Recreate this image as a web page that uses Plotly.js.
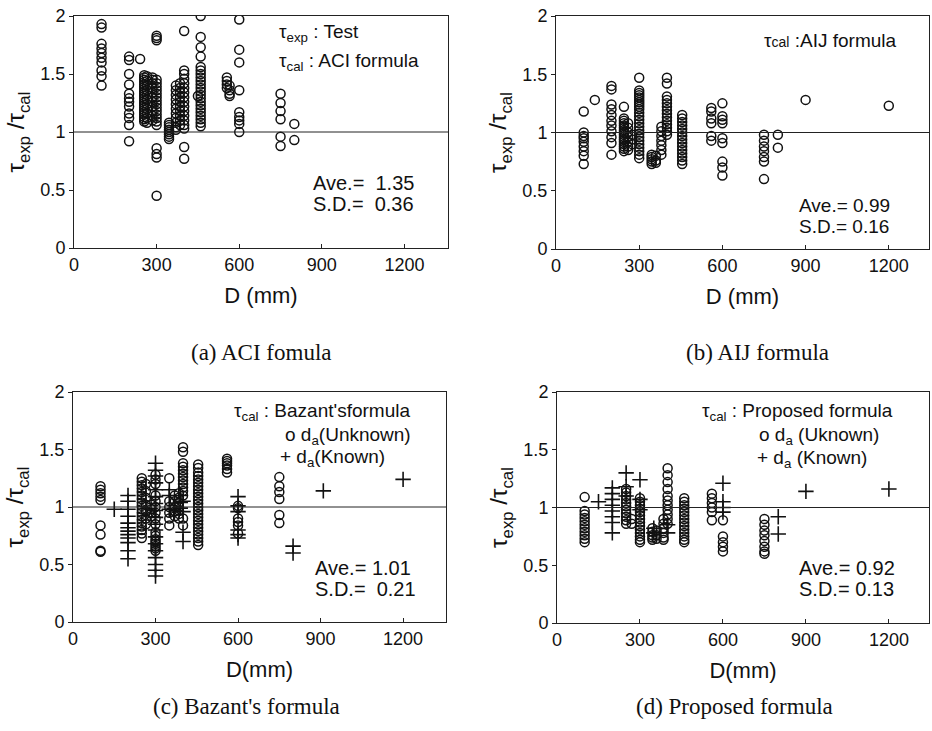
<!DOCTYPE html>
<html>
<head>
<meta charset="utf-8">
<script src="https://cdn.plot.ly/plotly-3.0.1.min.js"></script>
<style>html,body{margin:0;padding:0;background:#fff;}#chart{width:932px;height:731px;}</style>
</head>
<body>
<div id="chart"></div>
<script>
// ---------- DATA (columns: D in mm, ratios tau_exp/tau_cal) ----------
// (a) ACI formula
const aciD = [100, 200, 240, 255, 265, 285, 300, 345, 370, 385, 400, 450, 460, 555, 565, 600, 750, 800];
const aciR = [
  [1.93,1.90,1.76,1.72,1.68,1.64,1.60,1.53,1.48,1.40],
  [1.65,1.62,1.50,1.41,1.33,1.29,1.26,1.22,1.16,1.12,1.06,0.92],
  [1.63],
  [1.49,1.47,1.45,1.43,1.41,1.39,1.37,1.35,1.33,1.31,1.29,1.27,1.25,1.23,1.21,1.19,1.17,1.15,1.13,1.11,1.09],
  [1.48,1.44,1.40,1.36,1.32,1.28,1.24,1.20,1.16,1.12,1.08],
  [1.47,1.45,1.42,1.38,1.34,1.30,1.26,1.22,1.18,1.14,1.10],
  [1.83,1.81,1.79,1.45,1.42,1.39,1.36,1.33,1.30,1.27,1.24,1.21,1.18,1.15,1.12,1.09,1.06,0.86,0.81,0.78,0.45],
  [1.08,1.06,1.04,1.02,1.00,0.98,0.96,0.94],
  [1.40,1.36,1.32,1.28,1.24,1.20,1.16,1.12,1.08,1.04,1.02],
  [1.42,1.38,1.34,1.30,1.26,1.22,1.18,1.14,1.10,1.06],
  [1.87,1.53,1.50,1.46,1.42,1.38,1.34,1.30,1.26,1.22,1.18,1.14,1.10,1.06,1.03,0.87,0.77],
  [1.31],
  [2.00,1.82,1.73,1.65,1.56,1.53,1.50,1.47,1.44,1.41,1.38,1.35,1.32,1.29,1.26,1.23,1.20,1.17,1.14,1.11,1.08,1.05],
  [1.47,1.44,1.41,1.38],
  [1.40,1.36,1.33,1.31],
  [1.97,1.71,1.60,1.36,1.17,1.13,1.10,1.07,1.00],
  [1.33,1.25,1.18,1.11,0.96,0.88],
  [1.07,0.93]
];
// (b) AIJ formula
const aijD = [100, 140, 200, 245, 260, 275, 300, 345, 360, 380, 400, 455, 560, 600, 750, 800, 900, 1200];
const aijR = [
  [1.18,1.00,0.97,0.95,0.92,0.88,0.84,0.80,0.73],
  [1.28],
  [1.40,1.37,1.24,1.20,1.15,1.10,1.06,1.01,0.96,0.91,0.81],
  [1.22,1.12,1.10,1.08,1.06,1.04,1.02,1.00,0.98,0.96,0.94,0.92,0.90,0.88,0.86,0.84],
  [1.08,1.04,1.00,0.96,0.92,0.88,0.85],
  [0.98,0.94,0.90],
  [1.47,1.36,1.34,1.32,1.30,1.28,1.26,1.24,1.22,1.20,1.17,1.14,1.11,1.08,1.05,1.02,0.99,0.96,0.93,0.90,0.87,0.84,0.81,0.78],
  [0.81,0.79,0.77,0.75,0.73],
  [0.80,0.76,0.74],
  [1.05,1.01,0.97,0.93,0.89,0.85,0.81],
  [1.47,1.42,1.31,1.28,1.25,1.22,1.19,1.16,1.13,1.10,1.07,1.04,1.01,0.98],
  [1.15,1.12,1.09,1.06,1.03,1.00,0.97,0.94,0.91,0.88,0.85,0.82,0.79,0.76,0.73],
  [1.21,1.18,1.12,1.08,0.97,0.93],
  [1.25,1.14,1.11,1.08,0.95,0.91,0.75,0.70,0.63],
  [0.98,0.93,0.88,0.84,0.79,0.75,0.60],
  [0.98,0.87],
  [1.28],
  [1.23]
];
// (c) Bazant's formula, d_a unknown (circles)
const bzUnkD = [100, 250, 265, 285, 300, 350, 370, 385, 400, 455, 560, 600, 750];
const bzUnkR = [
  [1.18,1.15,1.12,1.09,1.06,0.84,0.76,0.62,0.61],
  [1.25,1.22,1.19,1.16,1.13,1.10,1.07,1.04,1.01,0.98,0.95,0.92,0.89,0.86,0.83,0.80,0.77,0.73],
  [1.20,1.14,1.08,1.02,0.96,0.90,0.85],
  [1.02,0.98,0.95,0.92],
  [1.28,1.24,1.20,1.10,1.05,1.00,0.95,0.90,0.85,0.78,0.75,0.72,0.70,0.68,0.66,0.64,0.62],
  [1.25,1.05,1.00,0.95,0.90,0.84],
  [1.10,1.05,1.00,0.96,0.92],
  [1.12,1.08,1.04,1.00,0.97,0.94,0.90],
  [1.52,1.48,1.38,1.35,1.32,1.29,1.26,1.23,1.20,1.17,1.14,1.10,0.90,0.84],
  [1.37,1.34,1.30,1.27,1.24,1.21,1.18,1.15,1.12,1.09,1.06,1.03,1.00,0.97,0.94,0.91,0.88,0.85,0.82,0.79,0.76,0.73,0.70,0.67],
  [1.42,1.40,1.38,1.36,1.33,1.30],
  [1.01,0.99,0.90,0.87,0.84,0.77],
  [1.26,1.18,1.13,1.07,0.93,0.86]
];
// (c) Bazant's formula, d_a known (plus)
const bzKnD = [150, 200, 300, 350, 390, 400, 600, 800, 910, 1200];
const bzKnR = [
  [0.98],
  [1.10,1.05,0.98,0.92,0.86,0.82,0.79,0.76,0.73,0.69,0.62,0.55],
  [1.38,1.32,1.27,1.21,1.15,1.09,1.03,0.97,0.91,0.85,0.80,0.74,0.68,0.62,0.56,0.50,0.45,0.40],
  [1.15,1.10,0.98],
  [1.10,1.04,0.99],
  [1.05,0.96,0.78,0.70],
  [1.09,1.01,0.96,0.80,0.76,0.73],
  [0.66,0.60],
  [1.14],
  [1.24]
];
// (d) Proposed formula, d_a unknown (circles)
const prUnkD = [100, 250, 270, 300, 345, 360, 385, 400, 460, 560, 600, 750];
const prUnkR = [
  [1.09,0.97,0.94,0.91,0.88,0.85,0.82,0.79,0.76,0.73,0.70],
  [1.16,1.13,1.10,1.07,1.04,1.01,0.98,0.95,0.92,0.89,0.86],
  [0.90,0.86],
  [1.08,1.05,1.02,0.99,0.96,0.93,0.90,0.87,0.84,0.81,0.78,0.75,0.72,0.70],
  [0.82,0.79,0.76,0.74,0.72],
  [0.80,0.76,0.73],
  [0.90,0.86,0.82,0.78,0.74,0.72],
  [1.34,1.28,1.22,1.16,1.10,1.06,1.02,0.98,0.94,0.90,0.86],
  [1.08,1.05,1.02,0.99,0.96,0.93,0.90,0.87,0.84,0.81,0.78,0.75,0.72,0.70],
  [1.12,1.08,1.04,1.00,0.96,0.89],
  [0.89,0.75,0.70,0.66,0.62],
  [0.90,0.85,0.80,0.76,0.71,0.66,0.62,0.60]
];
// (d) Proposed formula, d_a known (plus)
const prKnD = [150, 200, 250, 300, 350, 400, 600, 800, 900, 1200];
const prKnR = [
  [1.05],
  [1.17,1.12,1.07,1.02,0.97,0.92,0.87,0.78],
  [1.30,1.18,1.10],
  [1.24,1.07,0.98],
  [0.82,0.78],
  [0.85,0.78],
  [1.21,1.05,1.00,0.96],
  [0.92,0.77],
  [1.14],
  [1.16]
];
const xTicks = [0, 300, 600, 900, 1200];
const yTicks = [0, 0.5, 1, 1.5, 2];

// ---------- BUILD ----------
function expand(ds, rs) {
  const x = [], y = [];
  ds.forEach((d, i) => rs[i].forEach(v => { x.push(d); y.push(v); }));
  return {x, y};
}
const W = 932, H = 731;
const SANS = 'Liberation Sans, Arial, sans-serif';
const SERIF = 'Liberation Serif, Times New Roman, serif';
const circ = {symbol: 'circle-open', size: 9, color: '#111', line: {width: 1.5, color: '#111'}};
const plus = {symbol: 'cross-thin-open', size: 11, color: '#111', line: {width: 1.6, color: '#111'}};

function sc(ds, rs, xa, ya, marker) {
  const e = expand(ds, rs);
  return {type: 'scatter', mode: 'markers', x: e.x, y: e.y, xaxis: xa, yaxis: ya, marker: marker, hoverinfo: 'x+y', showlegend: false};
}
const traces = [
  sc(aciD, aciR, 'x', 'y', circ),
  sc(aijD, aijR, 'x2', 'y2', circ),
  sc(bzUnkD, bzUnkR, 'x3', 'y3', circ),
  sc(bzKnD, bzKnR, 'x3', 'y3', plus),
  sc(prUnkD, prUnkR, 'x4', 'y4', circ),
  sc(prKnD, prKnR, 'x4', 'y4', plus)
];

// pixel boxes of the four plot areas [left, right, top, bottom]
const boxes = [[74, 448, 16, 248], [556, 929, 16, 249], [73, 446, 392, 622], [557, 929, 392, 623]];
const xr = [1358, 1345, 1356, 1345];

const layout = {
  width: W, height: H,
  margin: {l: 0, r: 0, t: 0, b: 0},
  paper_bgcolor: '#fff', plot_bgcolor: '#fff',
  font: {family: SANS, color: '#111', size: 17},
  showlegend: false,
  shapes: [], annotations: []
};
const ytitle = 'τ<sub>exp</sub> /τ<sub>cal</sub>';
boxes.forEach((b, i) => {
  const n = i === 0 ? '' : String(i + 1);
  layout['xaxis' + n] = {
    domain: [b[0] / W, b[1] / W], anchor: 'y' + n, range: [0, xr[i]],
    tickvals: xTicks, ticks: 'inside', ticklen: 4, tickcolor: '#222',
    showgrid: false, zeroline: false, showline: true, mirror: true, linecolor: '#222', linewidth: 1,
    tickfont: {size: 18, family: SANS, color: '#111'},
    title: {text: i < 2 ? 'D (mm)' : 'D(mm)', font: {size: 22, family: SANS, color: '#111'}, standoff: 14}
  };
  layout['yaxis' + n] = {
    domain: [1 - b[3] / H, 1 - b[2] / H], anchor: 'x' + n, range: [0, 2],
    tickvals: yTicks, ticks: 'outside', ticklen: 4, tickcolor: '#222',
    showgrid: false, zeroline: false, showline: true, mirror: true, linecolor: '#222', linewidth: 1,
    tickfont: {size: 18, family: SANS, color: '#111'},
    title: {text: ytitle, font: {size: 24, family: SANS, color: '#111'}, standoff: 8}
  };
  layout.shapes.push({type: 'line', xref: 'x' + n + ' domain', yref: 'y' + n, x0: 0, x1: 1, y0: 1, y1: 1, line: {color: '#222', width: 1}});
});

function ann(text, x, y, size, xanchor, family) {
  layout.annotations.push({text: text, xref: 'paper', yref: 'paper', x: x / W, y: 1 - y / H,
    xanchor: xanchor || 'left', yanchor: 'middle', showarrow: false,
    font: {size: size, family: family || SANS, color: '#111'}});
}
// (a)
ann('τ<sub>exp</sub> : Test', 277, 33, 19);
ann('τ<sub>cal</sub> : ACI formula', 277, 62, 19);
ann('Ave.=  1.35', 311, 183, 20);
ann('S.D.=  0.36', 311, 204, 20);
// (b)
ann('τ<span style="font-size:14px">cal</span> :AIJ formula', 762, 40, 19);
ann('Ave.= 0.99', 797, 205, 19);
ann('S.D.= 0.16', 797, 226, 19);
// (c)
ann('τ<sub>cal</sub> : Bazant\'sformula', 232, 412, 19);
ann('o d<sub>a</sub>(Unknown)', 283, 436, 19);
ann('+ d<sub>a</sub>(Known)', 278, 458, 19);
ann('Ave.= 1.01', 313, 568, 20);
ann('S.D.=  0.21', 313, 589, 20);
// (d)
ann('τ<sub>cal</sub> : Proposed formula', 700, 412, 19);
ann('o d<sub>a</sub> (Uknown)', 757, 436, 19);
ann('+ d<sub>a</sub> (Known)', 755, 459, 19);
ann('Ave.= 0.92', 797, 568, 20);
ann('S.D.= 0.13', 797, 589, 20);
// captions
ann('(a) ACI fomula', 261, 352, 23, 'center', SERIF);
ann('(b) AIJ formula', 757, 352, 23, 'center', SERIF);
ann('(c) Bazant\'s formula', 246, 706, 23, 'center', SERIF);
ann('(d) Proposed formula', 734, 706, 23, 'center', SERIF);

Plotly.newPlot('chart', traces, layout, {displayModeBar: false, staticPlot: true});
</script>
</body>
</html>
